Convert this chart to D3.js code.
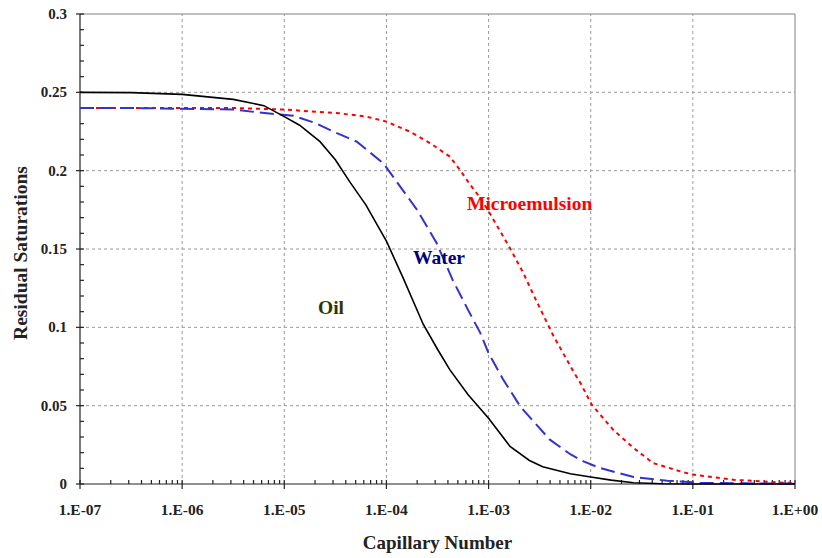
<!DOCTYPE html>
<html>
<head>
<meta charset="utf-8">
<script src="https://cdn.jsdelivr.net/npm/d3@7"></script>
<style>
  body { margin: 0; background: #fff; }
  svg text { font-family: "Liberation Serif", "Times New Roman", serif; font-weight: bold; }
</style>
</head>
<body>
<svg id="chart"></svg>
<script>
const width = 822;
const height = 558;

// x values are log10 of capillary number
const oilX = [-7, -6.5, -6, -5.5, -5.2, -5, -4.85, -4.65, -4.5, -4.36, -4.2, -4, -3.84, -3.64, -3.5, -3.38, -3.2, -3, -2.79, -2.6, -2.47, -2.2, -2, -1.8, -1.58, -1.3, -1, 0];
const oilY = [0.25, 0.2498, 0.2487, 0.2455, 0.2415, 0.2345, 0.229, 0.2185, 0.207, 0.193, 0.178, 0.155, 0.132, 0.102, 0.086, 0.073, 0.057, 0.042, 0.024, 0.015, 0.011, 0.0065, 0.0045, 0.0025, 0.0008, 0.0002, 0, 0];

const waterX = [-7, -6.5, -6, -5.5, -5.17, -4.91, -4.7, -4.52, -4.29, -4.03, -3.9, -3.7, -3.51, -3.35, -3.2, -3.08, -3, -2.86, -2.69, -2.4, -2.2, -2.07, -1.91, -1.58, -1.25, -0.93, -0.5, 0];
const waterY = [0.24, 0.24, 0.2395, 0.239, 0.2366, 0.235, 0.2305, 0.2249, 0.2185, 0.2047, 0.193, 0.175, 0.154, 0.13, 0.111, 0.0963, 0.0835, 0.067, 0.0495, 0.0283, 0.019, 0.0144, 0.0102, 0.0045, 0.0021, 0.0008, 0.0004, 0.0002];

const microX = [-7, -6, -5.5, -5, -4.46, -4.19, -4, -3.77, -3.57, -3.38, -3.28, -3.18, -3.08, -2.99, -2.79, -2.66, -2.56, -2.37, -2.17, -2.1, -1.99, -1.78, -1.58, -1.39, -1.12, -1, -0.6, -0.11, 0];
const microY = [0.24, 0.24, 0.24, 0.239, 0.2366, 0.2344, 0.2313, 0.2249, 0.2175, 0.209, 0.2005, 0.191, 0.1825, 0.173, 0.1505, 0.1347, 0.1207, 0.0952, 0.0718, 0.0644, 0.0506, 0.0346, 0.023, 0.0134, 0.008, 0.006, 0.0027, 0.0008, 0.0006];

const xTickLabels = ["1.E-07", "1.E-06", "1.E-05", "1.E-04", "1.E-03", "1.E-02", "1.E-01", "1.E+00"];
const yTicks = [0, 0.05, 0.1, 0.15, 0.2, 0.25, 0.3];

const margin = {left: 80, right: 27, top: 14, bottom: 74};

const svg = d3.select("#chart")
    .attr("width", width)
    .attr("height", height);

const x = d3.scaleLog().domain([1e-7, 1]).range([margin.left, width - margin.right]);
const y = d3.scaleLinear().domain([0, 0.3]).range([height - margin.bottom, margin.top]);

const decades = d3.range(-7, 1).map(p => Math.pow(10, p));

// grid
const grid = svg.append("g").attr("stroke", "#9a9a9a").attr("stroke-dasharray", "3,3").attr("stroke-width", 1);
decades.slice(1, -1).forEach(d => {
    grid.append("line").attr("x1", x(d)).attr("x2", x(d)).attr("y1", y(0)).attr("y2", y(0.3));
});
yTicks.slice(1, -1).forEach(v => {
    grid.append("line").attr("x1", x(1e-7)).attr("x2", x(1)).attr("y1", y(v)).attr("y2", y(v));
});

// frame top & right
svg.append("line").attr("x1", x(1e-7)).attr("x2", x(1)).attr("y1", y(0.3)).attr("y2", y(0.3)).attr("stroke", "#808080");
svg.append("line").attr("x1", x(1)).attr("x2", x(1)).attr("y1", y(0)).attr("y2", y(0.3)).attr("stroke", "#808080");

// axes
const ax = svg.append("g").attr("stroke", "#222").attr("stroke-width", 1.2);
ax.append("line").attr("x1", x(1e-7)).attr("x2", x(1)).attr("y1", y(0)).attr("y2", y(0));
ax.append("line").attr("x1", x(1e-7)).attr("x2", x(1e-7)).attr("y1", y(0)).attr("y2", y(0.3));

decades.forEach((d, i) => {
    ax.append("line").attr("x1", x(d)).attr("x2", x(d)).attr("y1", y(0) - 4).attr("y2", y(0) + 5);
    if (i < decades.length - 1) {
        d3.range(2, 10).forEach(m => {
            ax.append("line").attr("x1", x(d * m)).attr("x2", x(d * m)).attr("y1", y(0) - 4).attr("y2", y(0));
        });
    }
});
d3.range(0, 31).forEach(k => {
    const v = k / 100;
    const major = k % 5 === 0;
    ax.append("line").attr("x1", x(1e-7) + (major ? -4 : 0)).attr("x2", x(1e-7) + 4).attr("y1", y(v)).attr("y2", y(v));
});

svg.append("g").selectAll("text").data(decades).join("text")
    .attr("x", d => x(d)).attr("y", y(0) + 31)
    .attr("text-anchor", "middle").attr("font-size", 15.5).attr("fill", "#222")
    .text((d, i) => xTickLabels[i]);

svg.append("g").selectAll("text").data(yTicks).join("text")
    .attr("x", x(1e-7) - 13).attr("y", d => y(d) + 5)
    .attr("text-anchor", "end").attr("font-size", 15).attr("fill", "#222")
    .text(d => d === 0 ? "0" : String(d));

// axis titles
svg.append("text").attr("x", (x(1e-7) + x(1)) / 2).attr("y", 549)
    .attr("text-anchor", "middle").attr("font-size", 19).attr("fill", "#222")
    .text("Capillary Number");
svg.append("text").attr("transform", `translate(27,${(y(0) + y(0.3)) / 2 + 4}) rotate(-90)`)
    .attr("text-anchor", "middle").attr("font-size", 19.5).attr("fill", "#222")
    .text("Residual Saturations");

// curves
const line = d3.line().x(d => x(Math.pow(10, d[0]))).y(d => y(d[1]));
const series = [
    {xs: microX, ys: microY, color: "#ff0000", width: 2, dash: "4,4"},
    {xs: waterX, ys: waterY, color: "#3333cc", width: 2, dash: "14,6"},
    {xs: oilX, ys: oilY, color: "#000000", width: 1.6, dash: null}
];
series.forEach(s => {
    svg.append("path")
        .datum(s.xs.map((v, i) => [v, s.ys[i]]))
        .attr("fill", "none")
        .attr("stroke", s.color)
        .attr("stroke-width", s.width)
        .attr("stroke-dasharray", s.dash)
        .attr("d", line);
});

// labels
svg.append("text").attr("x", 467).attr("y", 210).attr("font-size", 19.5).attr("fill", "#ff0000").text("Microemulsion");
svg.append("text").attr("x", 413).attr("y", 264).attr("font-size", 19.5).attr("fill", "#000080").text("Water");
svg.append("text").attr("x", 318).attr("y", 314).attr("font-size", 19.5).attr("fill", "#333300").text("Oil");
</script>
</body>
</html>
